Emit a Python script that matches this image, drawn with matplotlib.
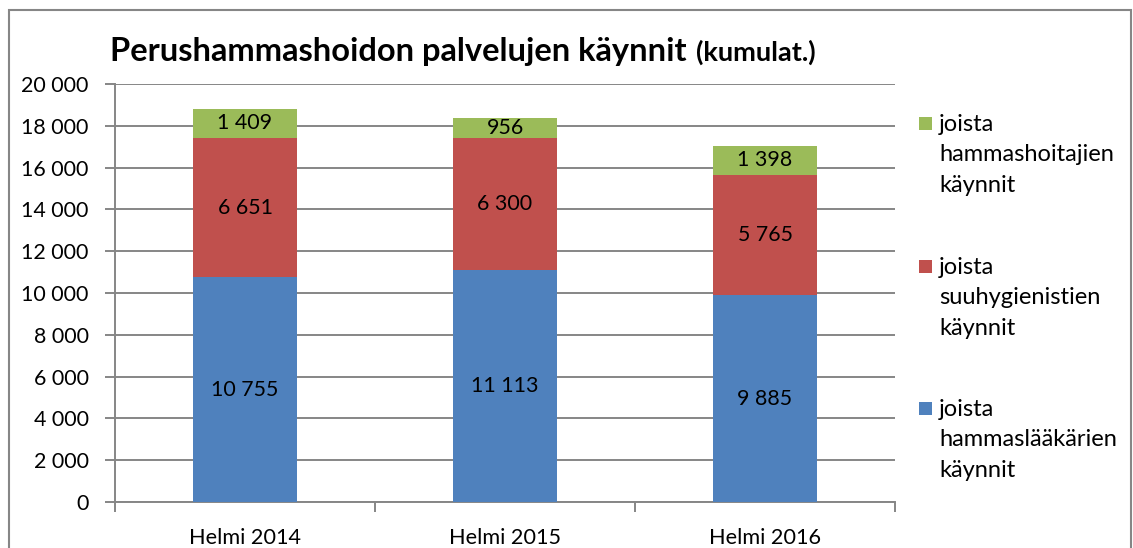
import matplotlib
matplotlib.use("Agg")
import matplotlib.pyplot as plt
from matplotlib.patches import Rectangle
import numpy as np

categories = ["Helmi 2014", "Helmi 2015", "Helmi 2016"]
laakari = [10755, 11113, 9885]
suuhyg = [6651, 6300, 5765]
hoitaja = [1409, 956, 1398]
series_names = ["joista\nhammaslääkärien\nkäynnit",
                "joista\nsuuhygienistien\nkäynnit",
                "joista\nhammashoitajien\nkäynnit"]
colors = ["#4F81BD", "#C0504D", "#9BBB59"]
yticks = list(range(0, 20001, 2000))

plt.rcParams['font.family'] = ['Lato', 'DejaVu Sans']

W, H = 1133, 548
fig = plt.figure(figsize=(W/100, H/100), dpi=100)
ax = fig.add_axes([115/W, 1-502/H, (895-115)/W, (502-84)/H])

def fmt(v):
    return f"{v:,}".replace(",", " ")

x = np.arange(len(categories))
bottom = np.zeros(len(categories))
for vals, c in zip([laakari, suuhyg, hoitaja], colors):
    bars = ax.bar(x, vals, width=0.4, bottom=bottom, color=c, zorder=3)
    for b, v, bt in zip(bars, vals, bottom):
        ax.text(b.get_x()+b.get_width()/2, bt+v/2, fmt(v), ha='center', va='center',
                fontsize=15.4, color='black', zorder=4)
    bottom += np.array(vals)

ax.set_xlim(-0.5, len(categories)-0.5)
ax.set_ylim(0, 20000)
ax.set_yticks(yticks)
ax.set_yticklabels([fmt(v) for v in yticks], fontsize=15.4)
ax.yaxis.grid(True, color='#868686', linewidth=1.4, zorder=0)
ax.set_xticks(x)
ax.set_xticklabels(categories, fontsize=15.6)
ax.set_xticks(np.arange(-0.5, len(categories), 1), minor=True)
ax.tick_params(axis='x', which='major', length=0, pad=19)
ax.tick_params(axis='x', which='minor', length=7, width=1.4, color='#868686')
ax.tick_params(axis='y', length=7, width=1.4, color='#868686', pad=12)
for s in ['top', 'right']:
    ax.spines[s].set_visible(False)
for s in ['left', 'bottom']:
    ax.spines[s].set_color('#868686')
    ax.spines[s].set_linewidth(1.4)

# title
t1 = fig.text(110/W, 1-61/H, "Perushammashoidon palvelujen käynnit", fontsize=23.5,
              fontweight='bold', ha='left', va='baseline')
fig.canvas.draw()
bb = t1.get_window_extent()
fig.text((bb.x1+9)/W, 1-61/H, "(kumulat.)", fontsize=19.5, fontweight='bold',
         ha='left', va='baseline')

# legend (manual, reversed order)
ly = [124, 267, 409]
for name, c, y in zip(series_names[::-1], colors[::-1], ly):
    fig.patches.append(Rectangle((919/W, 1-(y+6)/H), 13/W, 13/H, transform=fig.transFigure,
                                 facecolor=c, edgecolor='none'))
    fig.text(939/W, 1-(y-10)/H, name, fontsize=17, ha='left', va='top', linespacing=1.55)

# border
fig.patches.append(Rectangle((9/W, -0.1), (1131-9)/W, 1-10/H+0.1, transform=fig.transFigure,
                             facecolor='none', edgecolor='#868686', linewidth=1.5))

fig.savefig("out.png", dpi=100)
